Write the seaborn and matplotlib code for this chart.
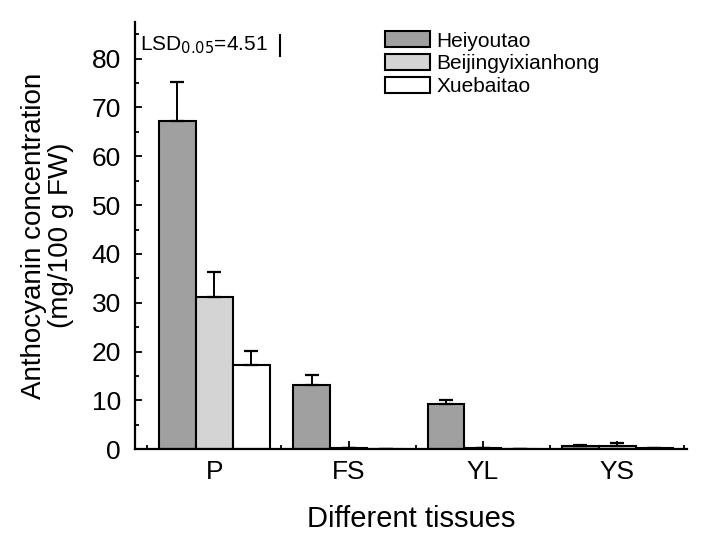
import numpy as np
import pandas as pd
import matplotlib
matplotlib.use("Agg")
import matplotlib.pyplot as plt
import seaborn as sns
from matplotlib.ticker import MultipleLocator, FixedLocator

# -------------------------
# Data
# -------------------------
tissues = ["P", "FS", "YL", "YS"]
cultivars = ["Heiyoutao", "Beijingyixianhong", "Xuebaitao"]
heiyoutao = [67.2, 13.2, 9.2, 0.7]
beijing = [31.2, 0.2, 0.15, 0.7]
xuebaitao = [17.2, 0.1, 0.1, 0.2]
heiyoutao_err = [8.1, 2.1, 0.9, 0.2]
beijing_err = [5.1, 0.0, 0.0, 0.6]
xuebaitao_err = [3.0, 0.0, 0.0, 0.0]
lsd = 4.51

colors = ["#a0a0a0", "#d4d4d4", "#ffffff"]

df = pd.DataFrame({
    "tissue": tissues * 3,
    "cultivar": np.repeat(cultivars, len(tissues)),
    "value": heiyoutao + beijing + xuebaitao,
})
errs = [heiyoutao_err, beijing_err, xuebaitao_err]

# -------------------------
# Plot
# -------------------------
sns.set_style("ticks")
plt.rcParams["font.family"] = ["Liberation Sans", "DejaVu Sans"]
plt.rcParams.update({"text.color": "black", "axes.labelcolor": "black",
                     "xtick.color": "black", "ytick.color": "black",
                     "axes.edgecolor": "black"})

fig = plt.figure(figsize=(7.18, 5.38), dpi=100)
ax = fig.add_axes([0.188, 0.165, 0.769, 0.794])

sns.barplot(data=df, x="tissue", y="value", hue="cultivar", order=tissues,
            hue_order=cultivars, palette=colors, width=0.825, errorbar=None,
            edgecolor="black", linewidth=1.5, saturation=1, ax=ax)

# upward-only error bars on each bar
for cont, err in zip(ax.containers, errs):
    xs = [b.get_x() + b.get_width() / 2 for b in cont]
    ys = [b.get_height() for b in cont]
    ax.errorbar(xs, ys, yerr=[np.zeros(len(err)), err], fmt="none",
                ecolor="black", elinewidth=1.4, capsize=5, capthick=1.6, zorder=1)

ax.set_xlim(-0.59, 3.52)
ax.set_ylim(0, 87.5)
ax.yaxis.set_major_locator(MultipleLocator(10))
ax.yaxis.set_minor_locator(MultipleLocator(5))
ax.xaxis.set_minor_locator(FixedLocator(np.arange(-0.5, 3.6, 1.0)))
ax.tick_params(which="major", direction="in", length=5, width=1.3, labelsize=19, pad=10)
ax.tick_params(which="minor", direction="in", length=3, width=1.3)
ax.tick_params(axis="x", which="major", length=6, pad=8)

for s in ["left", "bottom"]:
    ax.spines[s].set_linewidth(1.6)
sns.despine(ax=ax)

ax.set_xlabel("Different tissues", fontsize=21, labelpad=15)
ax.set_ylabel("Anthocyanin concentration\n(mg/100 g FW)", fontsize=20, labelpad=13,
              linespacing=1.05)

# LSD annotation with scale bar
ax.text(-0.55, 82.7, r"LSD$_{0.05}$=4.51", fontsize=15, va="center", ha="left")
ax.vlines(0.49, 82.7 - lsd / 2, 82.7 + lsd / 2, color="black", linewidth=1.5)

ax.legend(title=None, loc="upper left", bbox_to_anchor=(0.453, 0.978),
          fontsize=15, frameon=False, handlelength=2.16, handleheight=0.8,
          handletextpad=0.3, labelspacing=0.17, borderaxespad=0, borderpad=0)

fig.savefig("out.png", dpi=100)
